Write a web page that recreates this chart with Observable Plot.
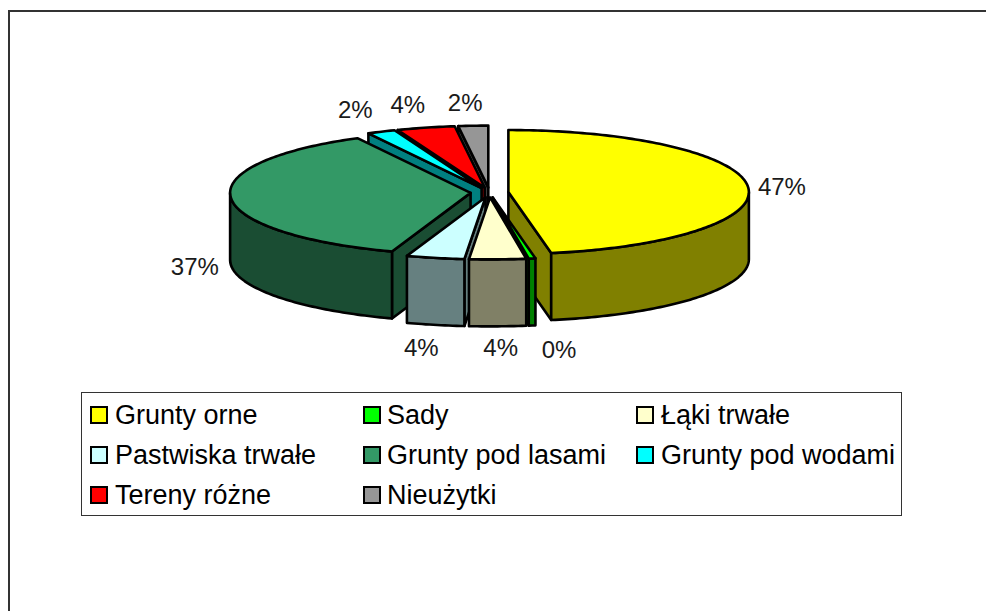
<!DOCTYPE html>
<html>
<head>
<meta charset="utf-8">
<script src="https://cdn.jsdelivr.net/npm/d3@7"></script>
<script src="https://cdn.jsdelivr.net/npm/@observablehq/plot@0.6"></script>
<style>
  html, body { margin: 0; padding: 0; background: #fff; overflow: hidden; }
  #page { position: relative; width: 986px; height: 611px; font-family: "Liberation Sans", Arial, sans-serif; }
  #frame { position: absolute; left: 8px; top: 10px; right: 0; bottom: 0; border-left: 2px solid #333; border-top: 2px solid #333; }
  #chart { position: absolute; left: 0; top: 0; }
  #legend { position: absolute; left: 81px; top: 392px; width: 819px; height: 122px; border: 1px solid #333; background: #fff; }
  .entry { position: absolute; display: flex; align-items: center; height: 40px; font-size: 27px; color: #000; white-space: nowrap; }
  .swatch { box-sizing: border-box; width: 18px; height: 18px; border: 2.5px solid #000; margin-right: var(--gap); flex: none; }
</style>
</head>
<body>
<div id="page">
  <div id="frame"></div>
  <div id="chart"></div>
  <div id="legend"></div>
</div>
<script>
// Data (percent shares of land use, clockwise from 12 o'clock)
const categories = ["Grunty orne", "Sady", "Łąki trwałe", "Pastwiska trwałe", "Grunty pod lasami", "Grunty pod wodami", "Tereny różne", "Nieużytki"];
const shares = [47.15, 0.45, 3.8, 3.9, 36.9, 1.9, 3.9, 2.0];
const topColors = ["#FFFF00", "#00FF00", "#FFFFCC", "#CCFFFF", "#339966", "#00FFFF", "#FF0000", "#969696"];
const sideColors = ["#808000", "#008000", "#808066", "#668080", "#1A4D33", "#008080", "#800000", "#4B4B4B"];
// Painter's order: back of the pie first
const drawOrder = [7, 6, 5, 4, 0, 3, 1, 2];
// Label nudges away from the rim midpoint (px)
const labelDx = [34, 27, 3, -14, -36, -26, -18, -8];
const labelDy = [1, 92, 89, 90, 70, -21, -22, -22];

// Pie model, in units of the pie radius
const RX = 240.5, RY = 62, CX = 489, CY = 192;
const explode = 0.0788, depth = 67 / RY;
const rad = d => d * Math.PI / 180;

const total = d3.sum(shares);
let acc = 0;
const slices = shares.map((v, i) => {
  const a0 = acc / total * 360; acc += v;
  const a1 = acc / total * 360, mid = (a0 + a1) / 2;
  return {i, a0, a1, mid, ox: explode * Math.sin(rad(mid)), oy: -explode * Math.cos(rad(mid))};
});
const rim = (s, a) => [s.ox + Math.sin(rad(a)), s.oy - Math.cos(rad(a))];
const arc = (s, a0, a1) => {
  const n = Math.max(2, Math.ceil(Math.abs(a1 - a0)));
  return d3.range(n + 1).map(k => rim(s, a0 + (a1 - a0) * k / n));
};
const drop = pts => pts.map(([x, y]) => [x, y + depth]);

const polys = [];
for (const i of drawOrder) {
  const s = slices[i], side = sideColors[i], apex = [s.ox, s.oy];
  // radial wall at the start angle faces the viewer on the left half
  if (Math.sin(rad(s.a0)) < 0) {
    const r = rim(s, s.a0);
    polys.push({pts: [apex, r, ...drop([r]), ...drop([apex])], fill: side});
  }
  // radial wall at the end angle faces the viewer on the right half
  if (Math.sin(rad(s.a1)) > 0) {
    const r = rim(s, s.a1);
    polys.push({pts: [apex, r, ...drop([r]), ...drop([apex])], fill: side});
  }
  // outer wall: only the front half of the rim shows
  const lo = Math.max(s.a0, 90), hi = Math.min(s.a1, 270);
  if (hi > lo) {
    const top = arc(s, lo, hi);
    polys.push({pts: [...top, ...drop(top).reverse()], fill: side});
  }
  // top face
  polys.push({pts: [apex, ...arc(s, s.a0, s.a1)], fill: topColors[i]});
}
const facets = [];
polys.forEach((p, id) => p.pts.forEach(([x, y]) => facets.push({id, x, y, fill: p.fill})));

const labels = slices.map(s => {
  const [x, y] = rim(s, s.mid);
  return {x, y, text: Math.round(shares[s.i]) + "%", dx: labelDx[s.i], dy: labelDy[s.i]};
});

const plot = Plot.plot({
  width: 986, height: 611, margin: 0,
  style: {background: "transparent", fontFamily: '"Liberation Sans", Arial, sans-serif'},
  x: {domain: [-CX / RX, (986 - CX) / RX], range: [0, 986], axis: null},
  y: {domain: [-CY / RY, (611 - CY) / RY], range: [0, 611], axis: null},
  color: {type: "identity"},
  marks: [
    Plot.line(facets, {x: "x", y: "y", z: "id", fill: "fill", stroke: "#000", strokeWidth: 2.6,
      strokeLinejoin: "round", curve: "linear-closed"}),
    ...labels.map(l => Plot.text([l], {x: "x", y: "y", text: "text", dx: l.dx, dy: l.dy,
      fontSize: 24, fill: "#1a1a1a", textAnchor: "middle", lineAnchor: "middle"}))
  ]
});
document.getElementById("chart").append(plot);

// Legend: three columns, three rows
const colLeft = [8, 281, 554], rowTop = [2, 42, 82], gaps = ["7px", "6px", "7px"];
const legend = document.getElementById("legend");
categories.forEach((name, i) => {
  const col = i % 3, row = Math.floor(i / 3);
  const e = document.createElement("div");
  e.className = "entry";
  e.style.left = colLeft[col] + "px";
  e.style.top = rowTop[row] + "px";
  e.style.setProperty("--gap", gaps[col]);
  const sw = document.createElement("span");
  sw.className = "swatch";
  sw.style.background = topColors[i];
  const t = document.createElement("span");
  t.textContent = name;
  e.append(sw, t);
  legend.append(e);
});
</script>
</body>
</html>
